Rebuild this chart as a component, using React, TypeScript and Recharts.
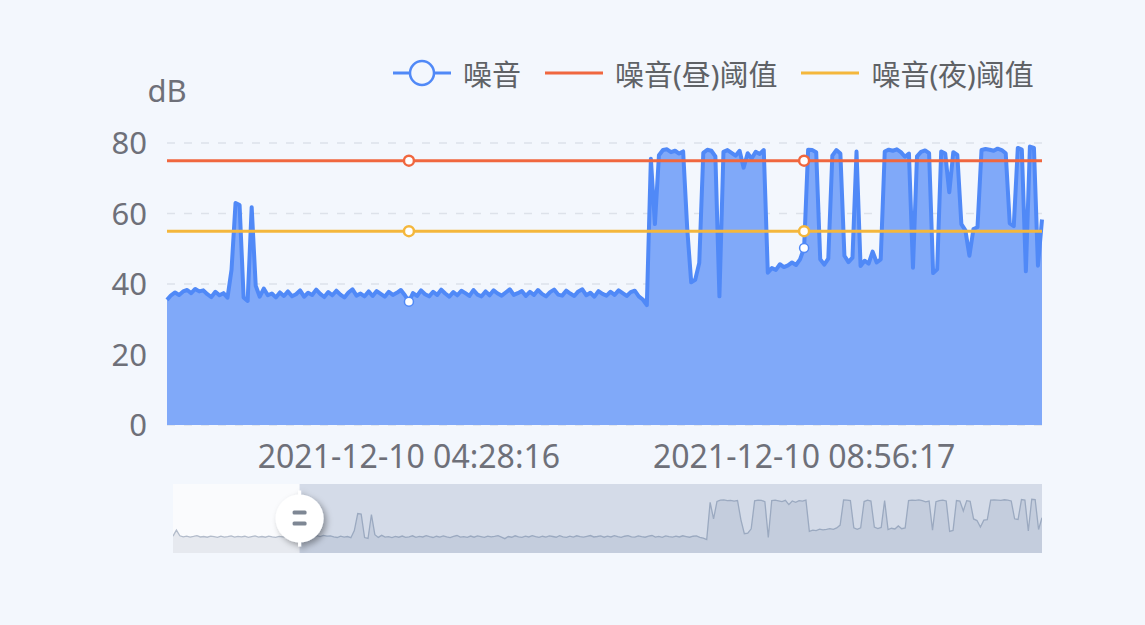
import React from 'react'
import { ComposedChart, AreaChart, Area, Line, XAxis, YAxis, CartesianGrid, ReferenceArea, ReferenceDot } from 'recharts'

// readings before the zoom window (only visible in the slider thumbnail)
const preNoise = [
  37.8, 44.5, 38.2, 37.1, 37.9, 36.8, 37.5, 38.3, 36.9, 37.4,
  36.6, 37.8, 37.2, 36.5, 37.9, 36.8, 37.3, 38.1, 36.7, 37.5,
  36.9, 37.7, 36.4, 37.2, 38.0, 36.8, 37.4, 36.6, 37.9, 37.1,
  36.5, 37.6, 36.9, 37.3, 36.4, 36.9, 35.8,
]

// readings inside the zoom window (dB)
const noise = [
  35.5, 36.8, 37.6, 36.9, 37.9, 38.3, 37.4, 38.6, 37.9, 38.2,
  37.1, 36.3, 37.8, 36.8, 37.4, 36.1, 44, 63, 62.4, 36.2,
  35.2, 61.8, 39.5, 36.4, 38.7, 36.8, 37.3, 36.2, 37.6, 36.6,
  37.9, 36.5, 37.1, 38.2, 36.4, 37.5, 36.9, 38.4, 37.2, 36.3,
  37.7, 36.8, 38.1, 37.0, 36.2, 37.6, 38.5, 36.7, 37.3, 36.5,
  37.9, 36.6, 38.0, 37.2, 36.4, 37.8, 36.9, 37.5, 38.3, 36.8,
  35.0, 37.4, 36.6, 38.2, 37.1, 36.5, 37.8, 36.9, 38.4, 37.3,
  36.4, 37.7, 36.8, 38.1, 37.4, 36.6, 38.3, 37.0, 36.5, 37.9,
  36.8, 38.2, 37.3, 36.7, 37.6, 38.5, 36.9, 37.4, 38.0, 36.6,
  37.8, 36.9, 38.3, 37.2, 36.5, 37.7, 38.4, 37.0, 36.7, 38.1,
  37.3, 36.6, 37.9, 38.5, 36.8, 37.5, 36.4, 38.0, 37.2, 36.7,
  37.8, 36.9, 38.2, 37.4, 36.6, 37.7, 38.1, 36.5, 35.6, 34.0,
  75.5, 57, 76.5, 78, 78.2, 77.4, 77.8, 77.0, 77.6, 56,
  40.5, 41.2, 46, 77.2, 78.1, 77.8, 76.2, 36.5, 77.5, 78,
  77.2, 76.4, 77.8, 73, 77.1, 75.6, 77.5, 76.9, 78, 43.2,
  44.5, 44, 45.6, 44.8, 45.3, 46.1, 45.4, 47, 50.2, 78.1,
  78, 77.4, 47, 45.5, 47.2, 76.4, 78, 77, 48, 46.2,
  47.5, 77.6, 45.1, 46.6, 45.8, 49.2, 46.1, 47, 77.6, 78.1,
  77.8, 78.2, 77.4, 76.1, 77, 44.6, 76.2, 77.5, 77.9, 77.1,
  43.1, 44.2, 77.6, 77, 66, 77.4, 76.6, 57, 55.2, 48,
  55.6, 56.1, 78, 78.3, 78.1, 77.8, 78.4, 78, 77.1, 57.2,
  56.4, 78.6, 78.1, 43.6, 79, 78.6, 45.2, 58.3,
]

const dayThreshold = 75
const nightThreshold = 55

const yTicks = [0, 20, 40, 60, 80]
const tickIndex = [60, 158]
const tickLabels = ['2021-12-10 04:28:16', '2021-12-10 08:56:17']

const BLUE = '#5089f7'
const RED = '#f0673f'
const YELLOW = '#f4b73c'
const TEXT = '#6e7079'
const FONT = "'Noto Sans', 'Noto Sans CJK SC', sans-serif"

const legendItems = [
  { name: '噪音', color: BLUE, circle: true },
  { name: '噪音(昼)阈值', color: RED, circle: false },
  { name: '噪音(夜)阈值', color: YELLOW, circle: false },
]

const mainData = noise.map((v, i) => ({ i, noise: v, day: dayThreshold, night: nightThreshold }))
const fullData = preNoise.concat(noise).map((v, i) => ({ i, noise: v }))

const markerDot = (color: string, r: number, sw: number) => (p: any) => {
  if (!tickIndex.includes(p.index)) return <g key={p.index} />
  return <circle key={p.index} cx={p.cx} cy={p.cy} r={r} fill="#fff" stroke={color} strokeWidth={sw} />
}

const Handle = (p: any) => {
  const { cx, cy } = p
  return (
    <g>
      <defs>
        <filter id="handleShadow" x="-60%" y="-60%" width="220%" height="220%">
          <feDropShadow dx="3" dy="3" stdDeviation="3" floodColor="#000" floodOpacity="0.35" />
        </filter>
      </defs>
      <g filter="url(#handleShadow)">
        <rect x={cx - 1.5} y={cy - 28} width={3} height={56} fill="#fff" />
        <circle cx={cx} cy={cy} r={24} fill="#fff" />
      </g>
      <rect x={cx - 7} y={cy - 8} width={14} height={4} rx={1.5} fill="#7e8794" />
      <rect x={cx - 7} y={cy + 3} width={14} height={4} rx={1.5} fill="#7e8794" />
    </g>
  )
}

export default function App() {
  return (
    <div style={{ position: 'absolute', left: 0, top: 0, width: 1145, height: 625, background: '#f3f7fd', fontFamily: FONT, overflow: 'hidden' }}>
      <div style={{ position: 'absolute', left: 393, top: 53, height: 40, display: 'flex', alignItems: 'center', gap: 24, fontSize: 29, color: '#5f6266' }}>
        {legendItems.map((it) => (
          <div key={it.name} style={{ display: 'flex', alignItems: 'center', gap: 12 }}>
            <svg width={58} height={32}>
              <line x1={0} y1={16} x2={58} y2={16} stroke={it.color} strokeWidth={3} />
              {it.circle && <circle cx={29} cy={16} r={12} fill="#f3f7fd" stroke={it.color} strokeWidth={2.5} />}
            </svg>
            <span>{it.name}</span>
          </div>
        ))}
      </div>

      <div style={{ position: 'absolute', left: 137, top: 69, width: 60, textAlign: 'center', fontSize: 31, lineHeight: '42px', color: TEXT }}>dB</div>

      <ComposedChart width={1145} height={625} data={mainData} margin={{ top: 143, right: 103, bottom: 160, left: 107 }}>
        <CartesianGrid vertical={false} stroke="#dde2ea" strokeDasharray="8 9" strokeWidth={1.5} />
        <XAxis
          dataKey="i"
          type="number"
          domain={[0, noise.length - 1]}
          ticks={tickIndex}
          interval={0}
          tickFormatter={(v) => tickLabels[tickIndex.indexOf(v)]}
          axisLine={false}
          tickLine={false}
          tickSize={6}
          tickMargin={14}
          height={40}
          tick={{ fill: TEXT, fontSize: 32, fontFamily: FONT }}
        />
        <YAxis
          domain={[0, 80]}
          ticks={yTicks}
          width={60}
          axisLine={false}
          tickLine={false}
          tickSize={6}
          tickMargin={14}
          tick={{ fill: TEXT, fontSize: 31, fontFamily: FONT }}
        />
        <Area
          type="linear"
          dataKey="noise"
          stroke={BLUE}
          strokeWidth={4}
          strokeLinejoin="round"
          fill="#80a9f9"
          fillOpacity={1}
          dot={markerDot(BLUE, 4.5, 1.5)}
          activeDot={false}
          isAnimationActive={false}
        />
        <Line type="linear" dataKey="day" stroke={RED} strokeWidth={3} dot={markerDot(RED, 5, 2.5)} activeDot={false} isAnimationActive={false} />
        <Line type="linear" dataKey="night" stroke={YELLOW} strokeWidth={3} dot={markerDot(YELLOW, 5, 2.5)} activeDot={false} isAnimationActive={false} />
      </ComposedChart>

      <div style={{ position: 'absolute', left: 173, top: 484, width: 869, height: 69, background: '#fafbfd' }}>
        <AreaChart width={869} height={69} data={fullData} margin={{ top: 0, right: 0, bottom: 0, left: 0 }}>
          <XAxis dataKey="i" type="number" domain={[0, fullData.length - 1]} hide />
          <YAxis domain={[19, 96]} hide />
          <Area type="linear" dataKey="noise" stroke="#b3bccb" strokeWidth={1.3} fill="#e6e9ef" fillOpacity={1} dot={false} activeDot={false} isAnimationActive={false} />
          <ReferenceArea x1={preNoise.length} x2={fullData.length - 1} fill="#3d5d94" fillOpacity={0.2} stroke="none" />
          <ReferenceDot x={preNoise.length} y={57.5} shape={Handle} />
        </AreaChart>
      </div>
    </div>
  )
}
